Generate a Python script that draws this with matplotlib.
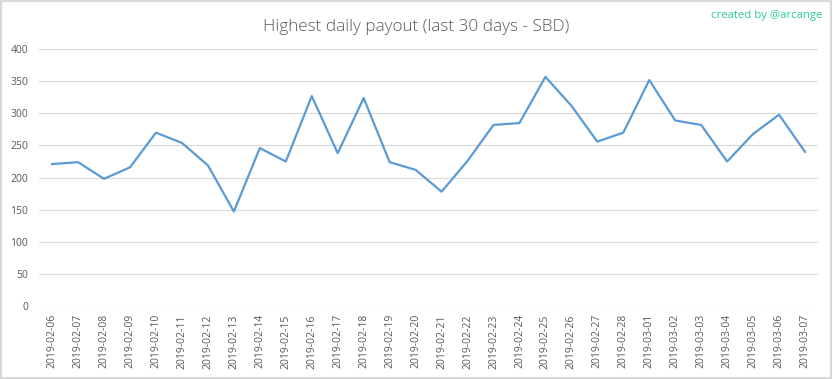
import matplotlib.pyplot as plt
from matplotlib.patches import Rectangle

dates = ['2019-02-06', '2019-02-07', '2019-02-08', '2019-02-09', '2019-02-10',
         '2019-02-11', '2019-02-12', '2019-02-13', '2019-02-14', '2019-02-15',
         '2019-02-16', '2019-02-17', '2019-02-18', '2019-02-19', '2019-02-20',
         '2019-02-21', '2019-02-22', '2019-02-23', '2019-02-24', '2019-02-25',
         '2019-02-26', '2019-02-27', '2019-02-28', '2019-03-01', '2019-03-02',
         '2019-03-03', '2019-03-04', '2019-03-05', '2019-03-06', '2019-03-07']
payout = [221, 224, 198, 216, 270, 254, 219, 147, 246, 225,
          327, 238, 324, 224, 212, 178, 226, 282, 285, 357,
          312, 256, 270, 352, 289, 282, 225, 268, 298, 240]
yticks = [0, 50, 100, 150, 200, 250, 300, 350, 400]

plt.rcParams['font.family'] = ['Open Sans', 'DejaVu Sans']

fig = plt.figure(figsize=(8.33, 3.79), dpi=100)
ax = fig.add_axes([0.047, 0.193, 0.935, 0.677])

x = list(range(len(dates)))
ax.plot(x, payout, color='#5b9bd5', linewidth=1.6)

ax.set_xlim(-0.5, len(dates) - 0.5)
ax.set_ylim(0, 400)
ax.set_yticks(yticks)
ax.set_xticks(x)
ax.set_xticklabels(dates, rotation=90)
ax.tick_params(axis='both', length=0, labelsize=7.5, colors='#595959')
ax.tick_params(axis='x', pad=6)
ax.tick_params(axis='y', pad=8)
ax.grid(axis='y', color='#d9d9d9', linewidth=0.8)
ax.set_axisbelow(True)
for s in ax.spines.values():
    s.set_visible(False)

fig.text(0.5, 0.93, 'Highest daily payout (last 30 days - SBD)', ha='center',
         va='center', fontsize=12.3, color='#595959', fontweight='light')
fig.text(0.987, 0.958, 'created by @arcange', ha='right', va='center',
         fontsize=8.2, color='#2ecc9a')

fig.patches.append(Rectangle((0.001, 0.002), 0.997, 0.995, transform=fig.transFigure,
                             fill=False, edgecolor='#d9d9d9', linewidth=1.5))

fig.savefig('out.png', dpi=100)
